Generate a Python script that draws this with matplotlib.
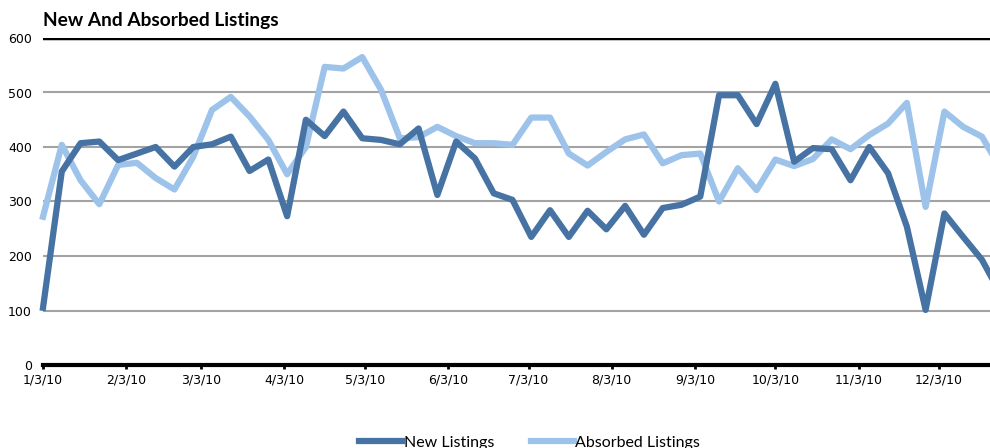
import datetime as dt
import numpy as np
import matplotlib
matplotlib.use("Agg")
import matplotlib.pyplot as plt
import matplotlib.dates as mdates

# weekly series, first week 1/3/10
start = dt.date(2010, 1, 3)
new_listings = [105, 355, 407, 410, 376, 388, 400, 364, 400, 405, 419, 356, 377, 273,
                450, 420, 465, 416, 413, 405, 434, 312, 410, 379, 315, 303, 235, 284,
                235, 283, 249, 292, 239, 288, 294, 309, 495, 495, 442, 516, 373, 398,
                396, 339, 400, 352, 254, 101, 278, 235, 193, 130]
absorbed = [272, 404, 339, 295, 367, 371, 343, 322, 382, 468, 492, 456, 413, 350,
            400, 547, 544, 565, 505, 416, 418, 437, 420, 407, 407, 404, 454, 454,
            388, 366, 391, 414, 423, 370, 385, 388, 300, 361, 321, 377, 365, 378,
            414, 396, 422, 443, 481, 290, 465, 437, 419, 360]
weeks = [start + dt.timedelta(days=7 * i) for i in range(len(new_listings))]
tick_dates = [dt.date(2010, m, 3) for m in range(1, 13)]
y_ticks = [0, 100, 200, 300, 400, 500, 600]

dark = "#4673a3"
light = "#9dc3ea"

fig = plt.figure(figsize=(9.9, 4.48), dpi=100)
ax = fig.add_axes([43 / 990, 83 / 448, 1 - 43 / 990, (365 - 38) / 448])

for y in y_ticks[1:-1]:
    ax.axhline(y, color="#a3a3a3", lw=1.5, zorder=1)
ax.axhline(600, color="black", lw=2.5, zorder=1)

# no clipping: the figure edge cuts the last week off, as in the original
ax.plot(weeks, new_listings, color=dark, lw=4.5, label="New Listings", zorder=3, clip_on=False)
ax.plot(weeks, absorbed, color=light, lw=4.5, label="Absorbed Listings", zorder=2, clip_on=False)

ax.set_ylim(0, 600)
ax.set_xlim(start, start + dt.timedelta(days=353.3))
ax.set_yticks(y_ticks)
ax.set_xticks(tick_dates)
ax.set_xticklabels([f"{d.month}/{d.day}/10" for d in tick_dates])

for s in ["top", "right", "left"]:
    ax.spines[s].set_visible(False)
ax.spines["bottom"].set_linewidth(3)
ax.spines["bottom"].set_zorder(4)
ax.tick_params(axis="y", length=0, pad=8, labelsize=9)
ax.tick_params(axis="x", length=3, width=2, pad=3, labelsize=9)

fig.text(43 / 990, 1 - 26 / 448, "New And Absorbed Listings", fontsize=13.8,
         fontweight="bold", family="Lato", va="baseline", ha="left")

fig.legend(loc="center", bbox_to_anchor=(0.535, 0.012), ncol=2, frameon=False,
           prop={"family": "Lato", "size": 11.5}, handlelength=2.7,
           handletextpad=0.1, columnspacing=2.3, borderpad=0)

fig.savefig("out.png", dpi=100)
